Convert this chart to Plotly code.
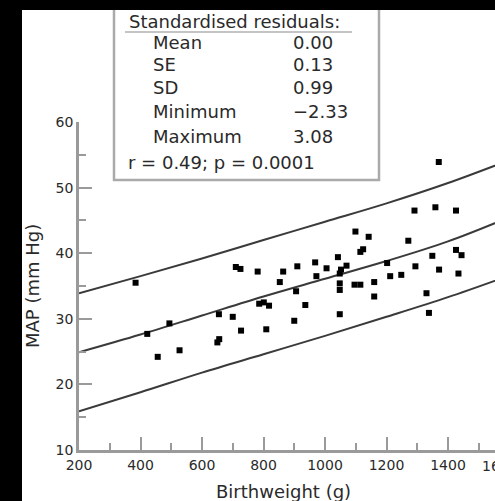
import plotly.graph_objects as go

# Data
birthweight = [384, 422, 456, 494, 527, 650, 656, 655, 700, 710, 725, 727, 781, 786, 801,
               818, 809, 853, 864, 900, 906, 910, 936, 968, 972, 1005, 1042, 1048, 1048, 1048,
               1048, 1052, 1070, 1096, 1115, 1099, 1142, 1115, 1124, 1160, 1160, 1202, 1212, 1248, 1271,
               1291, 1294, 1330, 1338, 1349, 1359, 1370, 1371, 1426, 1426, 1444, 1434]
map_mmhg = [35.5, 27.7, 24.2, 29.3, 25.2, 26.4, 26.9, 30.7, 30.3, 37.9, 37.6, 28.2, 37.2, 32.3, 32.5,
            32.0, 28.4, 35.6, 37.2, 29.7, 34.2, 38.0, 32.1, 38.6, 36.5, 37.7, 39.4, 36.9, 35.4, 34.4,
            30.7, 37.5, 38.1, 35.2, 35.2, 43.3, 42.5, 40.2, 40.6, 35.6, 33.4, 38.5, 36.5, 36.7, 41.9,
            46.5, 38.0, 33.9, 30.9, 39.6, 47.0, 53.9, 37.5, 46.5, 40.5, 39.7, 36.9]

line_x = [200, 400, 600, 800, 1000, 1200, 1400, 1600]
upper_line = [33.9, 36.5, 39.2, 42.0, 44.8, 47.6, 50.7, 54.2]
mean_line = [24.9, 27.6, 30.5, 33.4, 36.1, 38.8, 41.8, 45.5]
lower_line = [15.9, 18.8, 21.8, 24.6, 27.4, 30.3, 33.3, 36.6]

stat_labels = ["Mean", "SE", "SD", "Minimum", "Maximum"]
stat_values = ["0.00", "0.13", "0.99", "\u22122.33", "3.08"]
box_title = "Standardised residuals:"
corr_text = "r = 0.49; p = 0.0001"

x_ticks = [200, 400, 600, 800, 1000, 1200, 1400]
y_ticks = [10, 20, 30, 40, 50, 60]

FONT = "DejaVu Sans, Liberation Sans, sans-serif"
TXT = "#2a2a2a"
AX = "#9a9a9a"

fig = go.Figure()
for ys in (upper_line, mean_line, lower_line):
    fig.add_trace(go.Scatter(x=line_x, y=ys, mode="lines", line=dict(color="#3a3a3a", width=2, shape="spline"),
                             hoverinfo="skip", showlegend=False))
fig.add_trace(go.Scatter(x=birthweight, y=map_mmhg, mode="markers",
                         marker=dict(symbol="square", size=6, color="black"), showlegend=False))

# pixel -> paper helpers (plot area: x 79..495, y 122..450)
L, R, T, B = 79, 495, 122, 450
def px(x):
    return (x - L) / (R - L)
def py(y):
    return (B - y) / (B - T)

shapes = [
    # white page area (the paper itself is black, like the scan border)
    dict(type="rect", xref="paper", yref="paper", x0=px(22), x1=px(520), y0=py(520), y1=py(10),
         line=dict(width=0), fillcolor="white", layer="below"),
    # legend box
    dict(type="rect", xref="paper", yref="paper", x0=px(114), x1=px(379), y0=py(180), y1=py(4),
         line=dict(color="#aaaaaa", width=2.5), fillcolor="white", layer="above"),
    dict(type="line", xref="paper", yref="paper", x0=px(125), x1=px(352), y0=py(32), y1=py(32),
         line=dict(color="#b0b0b0", width=1.5), layer="above"),
    dict(type="rect", xref="paper", yref="paper", x0=px(0), x1=px(500), y0=py(10), y1=py(0),
         line=dict(width=0), fillcolor="black", layer="above"),
]

ann = []
BF = dict(size=18, color=TXT, family=FONT)
ann.append(dict(text=box_title, x=px(127), y=py(22), xref="paper", yref="paper", xanchor="left",
                yanchor="middle", showarrow=False, font=BF))
rows_y = [43, 65, 88, 112, 136]
for lab, val, yy in zip(stat_labels, stat_values, rows_y):
    ann.append(dict(text=lab, x=px(151), y=py(yy), xref="paper", yref="paper", xanchor="left",
                    yanchor="middle", showarrow=False, font=BF))
    ann.append(dict(text=val, x=px(291), y=py(yy), xref="paper", yref="paper", xanchor="left",
                    yanchor="middle", showarrow=False, font=BF))
ann.append(dict(text=corr_text, x=px(126), y=py(162), xref="paper", yref="paper", xanchor="left",
                yanchor="middle", showarrow=False, font=BF))
# axis titles
ann.append(dict(text="MAP (mm Hg)", x=px(32), y=py(286), xref="paper", yref="paper", textangle=-90,
                xanchor="center", yanchor="middle", showarrow=False, font=BF))
ann.append(dict(text="Birthweight (g)", x=px(283), y=py(491), xref="paper", yref="paper",
                xanchor="center", yanchor="middle", showarrow=False, font=BF))
# partially visible last tick label
ann.append(dict(text="1600", x=px(500), y=py(466), xref="paper", yref="paper",
                xanchor="center", yanchor="middle", showarrow=False, font=dict(size=14, color=TXT, family=FONT)))

fig.update_layout(
    width=495, height=501,
    margin=dict(l=L, r=495 - R, t=T, b=501 - B, pad=0),
    paper_bgcolor="black", plot_bgcolor="white",
    font=dict(family=FONT, color=TXT, size=14),
    shapes=shapes, annotations=ann,
    xaxis=dict(range=[200, 200 + (R - L) * 200 / 61.5], tickvals=x_ticks, ticktext=[str(v) for v in x_ticks],
               ticks="inside", ticklen=13, tickwidth=2, tickcolor=AX,
               showline=True, linecolor=AX, linewidth=2.5, showgrid=False, zeroline=False,
               minor=dict(dtick=100, tick0=200, ticks="inside", ticklen=7, tickwidth=2, tickcolor=AX),
               tickfont=dict(size=14, color=TXT, family=FONT), fixedrange=True),
    yaxis=dict(range=[10, 60], tickvals=y_ticks, ticktext=[str(v) for v in y_ticks],
               ticks="inside", ticklen=13, tickwidth=2, tickcolor=AX,
               showline=True, linecolor=AX, linewidth=2.5, showgrid=False, zeroline=False,
               minor=dict(dtick=5, tick0=10, ticks="inside", ticklen=7, tickwidth=2, tickcolor=AX),
               tickfont=dict(size=14, color=TXT, family=FONT), fixedrange=True),
)

fig.write_html("out.html", config={"displayModeBar": False},
               post_script="document.body.style.margin='0px';")
